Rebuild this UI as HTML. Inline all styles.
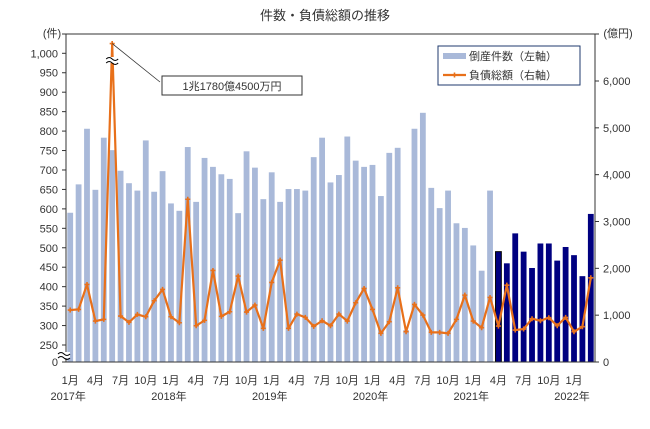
<!DOCTYPE html>
<html><head><meta charset="utf-8"><style>
body{margin:0;background:#fff;}
svg text{font-family:"Liberation Sans","Noto Sans CJK JP",sans-serif;}
</style></head><body>
<svg id="chart" width="650" height="424" viewBox="0 0 650 424" xmlns="http://www.w3.org/2000/svg">
<rect width="650" height="424" fill="#fff"/>
<text x="325" y="20" text-anchor="middle" font-size="13" fill="#333">件数・負債総額の推移</text>
<text x="52" y="37" text-anchor="middle" font-size="11" fill="#333">(件)</text>
<text x="618" y="37" text-anchor="middle" font-size="11" fill="#333">(億円)</text>
<g id="g"></g>
</svg>
<script>
const counts=[590,663,806,649,783,751,698,666,647,776,644,697,614,595,759,618,731,708,689,677,589,748,706,625,694,618,651,651,647,733,783,668,687,786,724,708,713,633,744,757,288,806,847,654,602,647,563,551,506,441,647,490,460,537,490,448,511,511,467,502,481,427,587];
const debts=[1109,1123,1656,874,910,11780,981,846,1016,966,1308,1550,966,838,3475,774,889,1955,974,1073,1834,1066,1215,718,1699,2175,718,1023,953,761,881,774,1023,874,1265,1570,1123,611,860,1585,647,1230,1002,633,633,611,910,1428,874,732,1378,767,1641,682,704,924,881,946,774,953,647,753,1798];
const leftTicks=[250,300,350,400,450,500,550,600,650,700,750,800,850,900,950,1000];
const rightTicks=[0,1000,2000,3000,4000,5000,6000];
const monthLabels=["1月","4月","7月","10月"];
const years=["2017年","2018年","2019年","2020年","2021年","2022年"];
const darkStart=51;
const NS="http://www.w3.org/2000/svg";
const g=document.getElementById('g');
const X0=66,X1=595,TOP=34,BOT=362;
const step=(X1-X0)/counts.length;
const xc=i=>X0+step*(i+0.5);
const yL=v=>345-(v-250)*(345-53.3)/750;
const yR=v=>BOT-v*(BOT-81)/6000;
function el(t,a,txt){const e=document.createElementNS(NS,t);for(const k in a)e.setAttribute(k,a[k]);if(txt!=null)e.textContent=txt;g.appendChild(e);return e;}
// bars
counts.forEach((v,i)=>{
  const dark=i>=darkStart;
  const b=el('rect',{x:xc(i)-2.9,y:yL(v),width:5.8,height:BOT-yL(v),fill:dark?'#000080':'#a9b9d9',stroke:dark&&i===darkStart?'#000':'none','stroke-width':1});
  
  
});
// axes
let a=el('line',{x1:X0,y1:TOP,x2:X0,y2:BOT,stroke:'#333'});

a=el('line',{x1:X1,y1:TOP,x2:X1,y2:BOT,stroke:'#333'});

a=el('line',{x1:X0,y1:BOT,x2:X1,y2:BOT,stroke:'#333'});

el('line',{x1:X0,y1:TOP,x2:X1,y2:TOP,stroke:'#333'});
el('line',{x1:X0-4,y1:TOP,x2:X0,y2:TOP,stroke:'#333'});
leftTicks.forEach(v=>{
  el('line',{x1:X0-4,y1:yL(v),x2:X0,y2:yL(v),stroke:'#333'});
  const t=el('text',{x:X0-8,y:yL(v)+4,'text-anchor':'end','font-size':11,fill:'#333'},v.toLocaleString('en-US'));
  
});
el('line',{x1:X0-4,y1:BOT,x2:X0,y2:BOT,stroke:'#333'});
el('text',{x:X0-8,y:BOT+4,'text-anchor':'end','font-size':11,fill:'#333'},'0');
rightTicks.forEach(v=>{
  el('line',{x1:X1,y1:yR(v),x2:X1+4,y2:yR(v),stroke:'#333'});
  const t=el('text',{x:X1+8,y:yR(v)+4,'font-size':11,fill:'#333'},v.toLocaleString('en-US'));
  
});
el('line',{x1:X1,y1:TOP,x2:X1+4,y2:TOP,stroke:'#333'});
// x labels
for(let i=0;i<counts.length;i+=3){
  const t=el('text',{x:xc(i),y:384,'text-anchor':'middle','font-size':11,fill:'#333'},monthLabels[(i/3)%4]);
  
  if(i%12===0){const y=el('text',{x:xc(i)-2,y:400,'text-anchor':'middle','font-size':11,fill:'#333'},years[i/12]);
  }
}
// line
const pts=debts.map((v,i)=>[xc(i),yR(Math.min(v,6800))]);
const ln=el('polyline',{points:pts.map(p=>p.join(',')).join(' '),fill:'none',stroke:'#e8701a','stroke-width':2.2,'stroke-linejoin':'round'});

pts.forEach(p=>{
  const m=el('path',{d:`M${p[0]-2.5},${p[1]}h5M${p[0]},${p[1]-2.5}v5`,stroke:'#e8701a','stroke-width':1.6});
  
});
// break marks
function brk(x,y){el('rect',{x:x-6,y:y-3,width:12,height:6,fill:'#fff'});
 el('path',{d:`M${x-6},${y-1} q3,-3 6,0 t6,0 M${x-6},${y+3} q3,-3 6,0 t6,0`,fill:'none',stroke:'#000','stroke-width':1});}
brk(xc(5),60);brk(X0-2,355);
// annotation
const pk=pts[5];
el('line',{x1:pk[0],y1:pk[1],x2:160,y2:82,stroke:'#333','stroke-width':0.8});
const ab=el('rect',{x:162,y:76,width:140,height:19,fill:'#fff',stroke:'#333'});

el('text',{x:232,y:90,'text-anchor':'middle','font-size':11,fill:'#333'},'1兆1780億4500万円');
// legend
const lg=el('rect',{x:438,y:46,width:142,height:39,fill:'#fff',stroke:'#1f3a6e','stroke-width':1});

el('rect',{x:443,y:53,width:23,height:6,fill:'#a9b9d9'});
let lt=el('text',{x:469,y:60,'font-size':11,fill:'#333'},'倒産件数（左軸）');

el('line',{x1:443,y1:75,x2:466,y2:75,stroke:'#e8701a','stroke-width':2.2});
el('path',{d:'M452,75h5M454.5,72.5v5',stroke:'#e8701a','stroke-width':1.6});
lt=el('text',{x:469,y:79,'font-size':11,fill:'#333'},'負債総額（右軸）');

</script>
</body></html>
